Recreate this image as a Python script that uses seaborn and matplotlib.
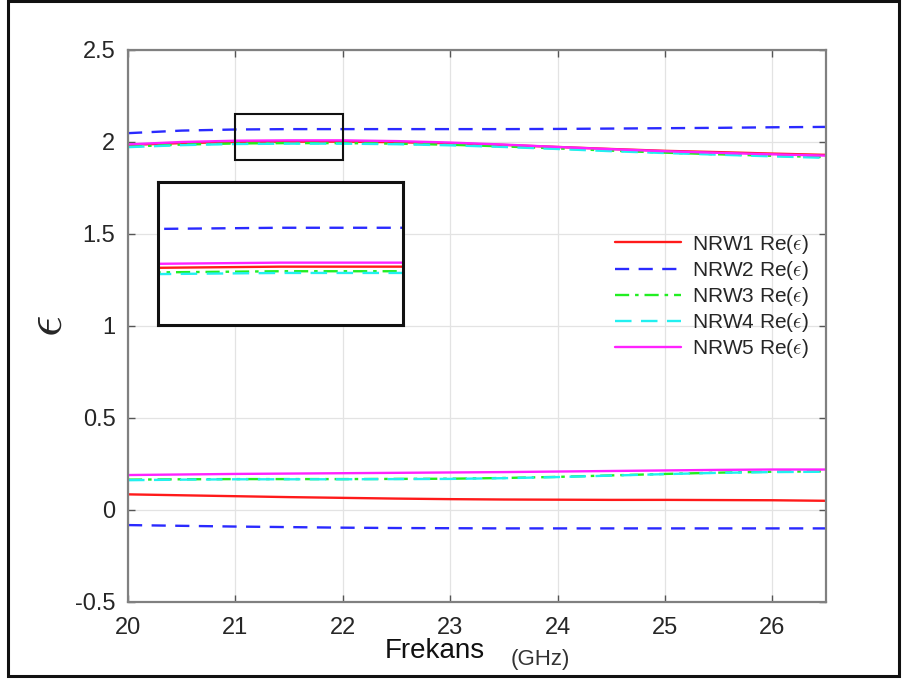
import numpy as np
import pandas as pd
import matplotlib
matplotlib.use("Agg")
import matplotlib.pyplot as plt
from matplotlib.patches import Rectangle
import seaborn as sns

# ---------------- data ----------------
freq = [20.0, 20.5, 21.0, 21.5, 22.0, 22.5, 23.0, 23.5, 24.0, 24.5, 25.0, 25.5, 26.0, 26.5]

nrw1_hi = [1.984, 1.994, 2.000, 2.002, 2.002, 1.999, 1.993, 1.984, 1.973, 1.962, 1.952, 1.945, 1.937, 1.930]
nrw2_hi = [2.048, 2.062, 2.068, 2.070, 2.070, 2.070, 2.070, 2.070, 2.071, 2.073, 2.075, 2.077, 2.080, 2.082]
nrw3_hi = [1.975, 1.986, 1.992, 1.994, 1.994, 1.991, 1.985, 1.976, 1.965, 1.953, 1.942, 1.933, 1.925, 1.918]
nrw4_hi = [1.972, 1.983, 1.989, 1.991, 1.991, 1.988, 1.982, 1.973, 1.962, 1.950, 1.940, 1.931, 1.922, 1.914]
nrw5_hi = [1.987, 2.000, 2.007, 2.009, 2.009, 2.005, 1.997, 1.986, 1.973, 1.961, 1.950, 1.941, 1.933, 1.926]

nrw1_lo = [0.085, 0.080, 0.075, 0.070, 0.066, 0.062, 0.059, 0.057, 0.056, 0.055, 0.055, 0.054, 0.053, 0.050]
nrw2_lo = [-0.082, -0.086, -0.090, -0.093, -0.096, -0.098, -0.099, -0.100, -0.100, -0.100, -0.100, -0.100, -0.100, -0.100]
nrw3_lo = [0.165, 0.167, 0.168, 0.168, 0.168, 0.169, 0.170, 0.174, 0.180, 0.188, 0.196, 0.203, 0.208, 0.210]
nrw4_lo = [0.162, 0.165, 0.167, 0.167, 0.167, 0.168, 0.169, 0.173, 0.179, 0.187, 0.195, 0.202, 0.206, 0.208]
nrw5_lo = [0.190, 0.193, 0.196, 0.198, 0.200, 0.202, 0.204, 0.206, 0.209, 0.212, 0.215, 0.218, 0.220, 0.220]

series_names = ["NRW1", "NRW2", "NRW3", "NRW4", "NRW5"]
legend_labels = [r"NRW1 Re($\epsilon$)", r"NRW2 Re($\epsilon$)", r"NRW3 Re($\epsilon$)",
                 r"NRW4 Re($\epsilon$)", r"NRW5 Re($\epsilon$)"]
hi_values = [nrw1_hi, nrw2_hi, nrw3_hi, nrw4_hi, nrw5_hi]
lo_values = [nrw1_lo, nrw2_lo, nrw3_lo, nrw4_lo, nrw5_lo]

x_ticks = [20, 21, 22, 23, 24, 25, 26]
y_ticks = [-0.5, 0, 0.5, 1, 1.5, 2, 2.5]
y_tick_labels = ["-0.5", "0", "0.5", "1", "1.5", "2", "2.5"]
zoom_x = (21, 22)
zoom_y = (1.9, 2.15)

# ---------------- styles ----------------
colors = ["#ff1a1a", "#2a2aff", "#22ee22", "#22f0f0", "#ff22ff"]
dash_styles = ["-", (0, (6, 4)), (0, (6, 2.5, 1.5, 2.5)), (0, (7, 4)), "-"]

sns.set_theme(style="white")
plt.rcParams["font.family"] = ["Liberation Sans", "DejaVu Sans"]
plt.rcParams["mathtext.fontset"] = "cm"

fig = plt.figure(figsize=(9.04, 6.82), dpi=100)
fig.patch.set_facecolor("white")
ax = fig.add_axes([128 / 904, 1 - 602 / 682, (826 - 128) / 904, (602 - 50) / 682])

records = []
for name, hi, lo in zip(series_names, hi_values, lo_values):
    for f, v in zip(freq, hi):
        records.append({"series": name, "branch": "hi", "freq": f, "eps": v})
    for f, v in zip(freq, lo):
        records.append({"series": name, "branch": "lo", "freq": f, "eps": v})
df = pd.DataFrame.from_records(records)


def draw(axis, lw):
    handles = []
    for i, name in enumerate(series_names):
        for branch in ["hi", "lo"]:
            sub = df[(df.series == name) & (df.branch == branch)]
            sns.lineplot(data=sub, x="freq", y="eps", ax=axis, color=colors[i],
                         linewidth=lw, estimator=None, legend=False)
            line = axis.get_lines()[-1]
            line.set_linestyle(dash_styles[i])
        handles.append(line)
    return handles


handles = draw(ax, 1.7)

ax.set_xlim(20, 26.5)
ax.set_ylim(-0.5, 2.5)
ax.set_xticks(x_ticks)
ax.set_yticks(y_ticks)
ax.set_yticklabels(y_tick_labels)
ax.grid(True, color="#e3e3e3", linewidth=0.9)
ax.tick_params(direction="in", length=5, width=1, colors="#555555", labelcolor="#262626",
               labelsize=17, top=True, right=True, bottom=True, left=True)
ax.tick_params(axis="x", pad=11)
ax.tick_params(axis="y", pad=9)
for s in ax.spines.values():
    s.set_color("#808080")
    s.set_linewidth(1.6)
ax.set_xlabel("")
ax.set_ylabel(r"$\epsilon$", fontsize=38, color="#262626", labelpad=2)

# zoom box on main axes
ax.add_patch(Rectangle((zoom_x[0], zoom_y[0]), zoom_x[1] - zoom_x[0], zoom_y[1] - zoom_y[0],
                       fill=False, edgecolor="#111111", linewidth=1.5, zorder=5))

# inset axes
ins = fig.add_axes([158 / 904, 1 - 325 / 682, (403 - 158) / 904, (325 - 182) / 682])
draw(ins, 1.7)
ins.set_xlim(*zoom_x)
ins.set_ylim(*zoom_y)
ins.set_xticks([])
ins.set_yticks([])
ins.set_xlabel("")
ins.set_ylabel("")
ins.set_facecolor("white")
for s in ins.spines.values():
    s.set_color("#111111")
    s.set_linewidth(2.2)

leg = ax.legend(handles, legend_labels, loc="upper left", bbox_to_anchor=(0.6855, 0.684),
                frameon=False, fontsize=15, handlelength=3.2, labelspacing=0.15,
                handletextpad=0.5, borderaxespad=0.0)
for t in leg.get_texts():
    t.set_color("#262626")

# x label pieces
fig.text(435 / 904, 1 - 651 / 682, "Frekans", fontsize=20, ha="center", va="center",
         color="#111111", family=["Liberation Sans Narrow", "Liberation Sans", "DejaVu Sans"])
fig.text(540 / 904, 1 - 659 / 682, "(GHz)", fontsize=16, ha="center", va="center",
         color="#333333", family=["Liberation Sans Narrow", "Liberation Sans", "DejaVu Sans"])

# figure border frame
fig.patches.append(Rectangle((8 / 904, 1 - 676 / 682), (899 - 8) / 904, 675 / 682,
                             transform=fig.transFigure, fill=False, edgecolor="#111111",
                             linewidth=2.2))

fig.savefig("out.png", dpi=100, facecolor="white")
